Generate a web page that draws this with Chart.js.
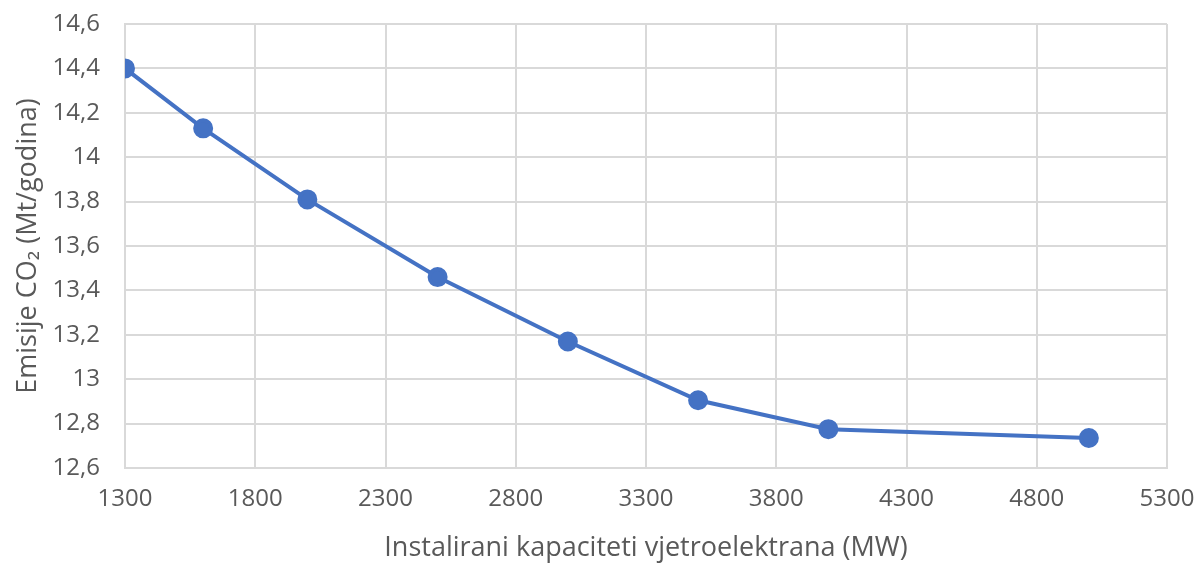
<!DOCTYPE html>
<html>
<head>
<meta charset="utf-8">
<script src="https://cdn.jsdelivr.net/npm/chart.js@4"></script>
<style>
  html, body { margin: 0; padding: 0; background: #fff; }
  #wrap { width: 1204px; height: 565px; }
</style>
</head>
<body>
<div id="wrap"><canvas id="chart"></canvas></div>
<script>
// kapaciteti (MW) i emisije (Mt/godina)
const capacities = [1300, 1600, 2000, 2500, 3000, 3500, 4000, 5000];
const emissions = [14.40, 14.13, 13.81, 13.46, 13.17, 12.905, 12.775, 12.735];

const xTitle = "Instalirani kapaciteti vjetroelektrana (MW)";
const yTitle = "Emisije CO₂ (Mt/godina)";

const points = capacities.map((c, i) => ({ x: c, y: emissions[i] }));

const gridColor = "#d9d9d9";
const textColor = "#595959";
const family = "'Open Sans', 'Noto Sans', sans-serif";
const tickFont = { family: family, size: 24 };
const titleFont = { family: family, size: 27 };

new Chart(document.getElementById("chart"), {
    type: "line",
    data: {
        datasets: [{
            data: points,
            borderColor: "#4472C4",
            backgroundColor: "#4472C4",
            borderWidth: 4,
            pointRadius: 8,
            pointHoverRadius: 8,
            tension: 0
        }]
    },
    options: {
        responsive: true,
        maintainAspectRatio: false,
        animation: false,
        layout: { padding: { left: 0, right: 37, top: 24, bottom: 0 } },
        plugins: {
            legend: { display: false },
            tooltip: { enabled: false }
        },
        scales: {
            x: {
                type: "linear",
                min: 1300,
                max: 5300,
                ticks: { stepSize: 500, color: textColor, font: tickFont, padding: 17, maxRotation: 0, callback: v => String(v) },
                grid: { color: gridColor, lineWidth: 2, drawTicks: false },
                border: { color: gridColor, width: 2 },
                title: { display: true, text: xTitle, color: textColor, font: titleFont, padding: { top: 0, bottom: 0 } },
                // fiksna visina osi kao u originalu
                afterFit: s => { s.height = 97; s.paddingLeft = 0; s.paddingRight = 0; }
            },
            y: {
                min: 12.6,
                max: 14.6,
                ticks: {
                    stepSize: 0.2,
                    color: textColor,
                    font: tickFont,
                    padding: 25,
                    callback: v => String(Math.round(v * 10) / 10).replace(".", ",")
                },
                grid: { color: gridColor, lineWidth: 2, drawTicks: false },
                border: { color: gridColor, width: 2 },
                title: { display: true, text: yTitle, color: textColor, font: titleFont, padding: { top: 12, bottom: 0 } },
                afterFit: s => { s.width = 125; s.paddingTop = 0; s.paddingBottom = 0; }
            }
        }
    }
});
</script>
</body>
</html>
